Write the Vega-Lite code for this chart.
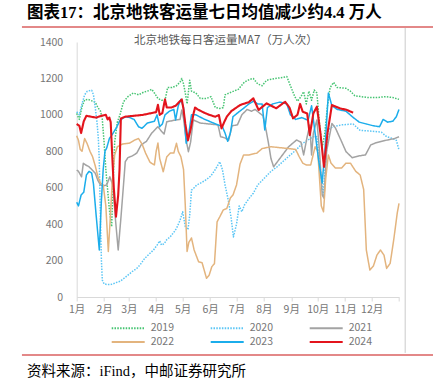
{
 "$schema": "https://vega.github.io/schema/vega-lite/v6.json",
 "background": "white",
 "autosize": {"type": "none"},
 "padding": {"left": 76.7, "top": 42, "right": 34, "bottom": 90},
 "width": 322.3,
 "height": 255,
 "config": {"view": {"stroke": null}, "font": "Noto Sans CJK SC",
   "axis": {"labelOverlap": false, "labelFlush": false, "labelFontSize": 10.5, "labelColor": "#767676", "domainColor": "#D9D9D9", "tickColor": "#D9D9D9", "grid": false, "title": null, "tickCount": 20}},
 "data": {"values": [
{"year":"2019","day":0,"value":1008},{"year":"2019","day":3,"value":975},{"year":"2019","day":6,"value":1045},{"year":"2019","day":9,"value":1082},{"year":"2019","day":13,"value":1085},{"year":"2019","day":18,"value":1075},{"year":"2019","day":21,"value":1070},{"year":"2019","day":24,"value":1040},{"year":"2019","day":27,"value":1020},{"year":"2019","day":29,"value":975},{"year":"2019","day":31,"value":850},{"year":"2019","day":33,"value":700},{"year":"2019","day":35,"value":590},{"year":"2019","day":37,"value":480},{"year":"2019","day":39.6,"value":386},{"year":"2019","day":41,"value":600},{"year":"2019","day":43,"value":850},{"year":"2019","day":46,"value":960},{"year":"2019","day":49,"value":1000},{"year":"2019","day":53,"value":1072},{"year":"2019","day":58,"value":1100},{"year":"2019","day":64,"value":1120},{"year":"2019","day":70,"value":1110},{"year":"2019","day":76,"value":1125},{"year":"2019","day":80,"value":1130},{"year":"2019","day":85,"value":1140},{"year":"2019","day":88,"value":1120},{"year":"2019","day":92,"value":1090},{"year":"2019","day":96,"value":1080},{"year":"2019","day":100,"value":1080},{"year":"2019","day":103,"value":1150},{"year":"2019","day":108,"value":1150},{"year":"2019","day":113,"value":1160},{"year":"2019","day":117,"value":1180},{"year":"2019","day":119,"value":1200},{"year":"2019","day":121,"value":1170},{"year":"2019","day":123,"value":1120},{"year":"2019","day":125,"value":1060},{"year":"2019","day":128,"value":1190},{"year":"2019","day":130,"value":1130},{"year":"2019","day":135,"value":1120},{"year":"2019","day":140,"value":1090},{"year":"2019","day":147,"value":1090},{"year":"2019","day":152,"value":1100},{"year":"2019","day":157,"value":1040},{"year":"2019","day":162,"value":1035},{"year":"2019","day":166,"value":1040},{"year":"2019","day":168,"value":1110},{"year":"2019","day":175,"value":1125},{"year":"2019","day":183,"value":1140},{"year":"2019","day":190,"value":1180},{"year":"2019","day":196,"value":1195},{"year":"2019","day":200,"value":1200},{"year":"2019","day":205,"value":1170},{"year":"2019","day":210,"value":1160},{"year":"2019","day":215,"value":1190},{"year":"2019","day":225,"value":1200},{"year":"2019","day":233,"value":1205},{"year":"2019","day":238,"value":1210},{"year":"2019","day":242,"value":1160},{"year":"2019","day":247,"value":1100},{"year":"2019","day":250,"value":1075},{"year":"2019","day":254,"value":1100},{"year":"2019","day":257,"value":1127},{"year":"2019","day":260,"value":1060},{"year":"2019","day":263,"value":1130},{"year":"2019","day":266,"value":1080},{"year":"2019","day":269,"value":1136},{"year":"2019","day":272,"value":1120},{"year":"2019","day":275,"value":950},{"year":"2019","day":278,"value":820},{"year":"2019","day":281,"value":900},{"year":"2019","day":284,"value":1050},{"year":"2019","day":287,"value":1150},{"year":"2019","day":291,"value":1178},{"year":"2019","day":295,"value":1150},{"year":"2019","day":305,"value":1146},{"year":"2019","day":310,"value":1130},{"year":"2019","day":315,"value":1105},{"year":"2019","day":322,"value":1100},{"year":"2019","day":330,"value":1095},{"year":"2019","day":340,"value":1095},{"year":"2019","day":350,"value":1100},{"year":"2019","day":358,"value":1095},{"year":"2019","day":365,"value":1085},
{"year":"2020","day":0,"value":1017},{"year":"2020","day":3,"value":1000},{"year":"2020","day":6,"value":1060},{"year":"2020","day":9,"value":1110},{"year":"2020","day":12,"value":1130},{"year":"2020","day":17,"value":1135},{"year":"2020","day":19,"value":1110},{"year":"2020","day":21,"value":1040},{"year":"2020","day":23,"value":960},{"year":"2020","day":24.5,"value":870},{"year":"2020","day":25.5,"value":760},{"year":"2020","day":27,"value":400},{"year":"2020","day":28,"value":200},{"year":"2020","day":29,"value":93},{"year":"2020","day":31,"value":72},{"year":"2020","day":35,"value":68},{"year":"2020","day":38,"value":68},{"year":"2020","day":41,"value":72},{"year":"2020","day":45,"value":80},{"year":"2020","day":49,"value":86},{"year":"2020","day":53,"value":100},{"year":"2020","day":58,"value":120},{"year":"2020","day":63,"value":140},{"year":"2020","day":68,"value":157},{"year":"2020","day":72,"value":178},{"year":"2020","day":77,"value":212},{"year":"2020","day":83,"value":240},{"year":"2020","day":87,"value":258},{"year":"2020","day":91,"value":285},{"year":"2020","day":94,"value":308},{"year":"2020","day":96,"value":285},{"year":"2020","day":99,"value":292},{"year":"2020","day":102,"value":315},{"year":"2020","day":106,"value":331},{"year":"2020","day":110,"value":355},{"year":"2020","day":113,"value":377},{"year":"2020","day":117,"value":420},{"year":"2020","day":120,"value":468},{"year":"2020","day":123,"value":386},{"year":"2020","day":126,"value":370},{"year":"2020","day":128,"value":450},{"year":"2020","day":130,"value":587},{"year":"2020","day":133,"value":600},{"year":"2020","day":136,"value":615},{"year":"2020","day":142,"value":630},{"year":"2020","day":147,"value":645},{"year":"2020","day":152,"value":665},{"year":"2020","day":157,"value":700},{"year":"2020","day":162,"value":743},{"year":"2020","day":165,"value":700},{"year":"2020","day":168,"value":615},{"year":"2020","day":172,"value":523},{"year":"2020","day":175,"value":430},{"year":"2020","day":177.5,"value":330},{"year":"2020","day":181,"value":400},{"year":"2020","day":184,"value":500},{"year":"2020","day":187,"value":468},{"year":"2020","day":190,"value":505},{"year":"2020","day":195,"value":540},{"year":"2020","day":200,"value":570},{"year":"2020","day":205,"value":615},{"year":"2020","day":210,"value":640},{"year":"2020","day":215,"value":665},{"year":"2020","day":220,"value":690},{"year":"2020","day":227,"value":715},{"year":"2020","day":235,"value":750},{"year":"2020","day":242,"value":780},{"year":"2020","day":249,"value":810},{"year":"2020","day":255,"value":840},{"year":"2020","day":262,"value":862},{"year":"2020","day":268,"value":880},{"year":"2020","day":272,"value":880},{"year":"2020","day":276,"value":700},{"year":"2020","day":279,"value":560},{"year":"2020","day":282,"value":750},{"year":"2020","day":285,"value":920},{"year":"2020","day":290,"value":935},{"year":"2020","day":300,"value":945},{"year":"2020","day":313,"value":950},{"year":"2020","day":321,"value":915},{"year":"2020","day":335,"value":910},{"year":"2020","day":345,"value":905},{"year":"2020","day":351,"value":880},{"year":"2020","day":358,"value":870},{"year":"2020","day":362,"value":860},{"year":"2020","day":365,"value":807},
{"year":"2021","day":0,"value":697},{"year":"2021","day":2,"value":690},{"year":"2021","day":5.5,"value":660},{"year":"2021","day":7.5,"value":734},{"year":"2021","day":10,"value":725},{"year":"2021","day":14,"value":715},{"year":"2021","day":17,"value":700},{"year":"2021","day":21,"value":680},{"year":"2021","day":24,"value":640},{"year":"2021","day":27,"value":615},{"year":"2021","day":30,"value":610},{"year":"2021","day":34,"value":615},{"year":"2021","day":37.5,"value":660},{"year":"2021","day":39,"value":640},{"year":"2021","day":41,"value":610},{"year":"2021","day":44,"value":420},{"year":"2021","day":47,"value":258},{"year":"2021","day":50,"value":430},{"year":"2021","day":53,"value":615},{"year":"2021","day":55,"value":743},{"year":"2021","day":58,"value":765},{"year":"2021","day":63,"value":775},{"year":"2021","day":68,"value":790},{"year":"2021","day":73,"value":835},{"year":"2021","day":79,"value":855},{"year":"2021","day":85,"value":900},{"year":"2021","day":92,"value":935},{"year":"2021","day":96,"value":910},{"year":"2021","day":99,"value":895},{"year":"2021","day":102,"value":962},{"year":"2021","day":110,"value":970},{"year":"2021","day":117,"value":975},{"year":"2021","day":119,"value":1027},{"year":"2021","day":121,"value":980},{"year":"2021","day":124,"value":860},{"year":"2021","day":126.5,"value":798},{"year":"2021","day":129,"value":850},{"year":"2021","day":132,"value":972},{"year":"2021","day":140,"value":955},{"year":"2021","day":150,"value":950},{"year":"2021","day":160,"value":945},{"year":"2021","day":163,"value":880},{"year":"2021","day":168,"value":873},{"year":"2021","day":172,"value":860},{"year":"2021","day":176,"value":940},{"year":"2021","day":182,"value":945},{"year":"2021","day":187,"value":1000},{"year":"2021","day":193,"value":1030},{"year":"2021","day":198,"value":1020},{"year":"2021","day":202,"value":1030},{"year":"2021","day":207,"value":1010},{"year":"2021","day":211,"value":995},{"year":"2021","day":214,"value":928},{"year":"2021","day":217,"value":850},{"year":"2021","day":220,"value":760},{"year":"2021","day":223,"value":715},{"year":"2021","day":230,"value":760},{"year":"2021","day":240,"value":825},{"year":"2021","day":249,"value":862},{"year":"2021","day":254,"value":850},{"year":"2021","day":257,"value":780},{"year":"2021","day":261,"value":880},{"year":"2021","day":264,"value":944},{"year":"2021","day":266,"value":780},{"year":"2021","day":268,"value":900},{"year":"2021","day":272,"value":972},{"year":"2021","day":275,"value":800},{"year":"2021","day":278,"value":560},{"year":"2021","day":280,"value":543},{"year":"2021","day":283,"value":800},{"year":"2021","day":289,"value":953},{"year":"2021","day":293,"value":928},{"year":"2021","day":300,"value":853},{"year":"2021","day":305,"value":798},{"year":"2021","day":312,"value":765},{"year":"2021","day":320,"value":775},{"year":"2021","day":327,"value":780},{"year":"2021","day":333,"value":835},{"year":"2021","day":338,"value":845},{"year":"2021","day":350,"value":860},{"year":"2021","day":360,"value":870},{"year":"2021","day":365,"value":880},
{"year":"2022","day":0,"value":885},{"year":"2022","day":2,"value":860},{"year":"2022","day":4,"value":810},{"year":"2022","day":6,"value":800},{"year":"2022","day":9,"value":870},{"year":"2022","day":12,"value":840},{"year":"2022","day":15,"value":800},{"year":"2022","day":18,"value":770},{"year":"2022","day":21,"value":720},{"year":"2022","day":24,"value":660},{"year":"2022","day":27,"value":625},{"year":"2022","day":30,"value":615},{"year":"2022","day":33,"value":500},{"year":"2022","day":35.8,"value":250},{"year":"2022","day":38,"value":430},{"year":"2022","day":40,"value":615},{"year":"2022","day":43,"value":780},{"year":"2022","day":46,"value":825},{"year":"2022","day":52,"value":840},{"year":"2022","day":60,"value":845},{"year":"2022","day":65,"value":860},{"year":"2022","day":70,"value":870},{"year":"2022","day":74,"value":840},{"year":"2022","day":78,"value":790},{"year":"2022","day":83,"value":740},{"year":"2022","day":88,"value":725},{"year":"2022","day":90,"value":800},{"year":"2022","day":92,"value":845},{"year":"2022","day":94,"value":760},{"year":"2022","day":98,"value":688},{"year":"2022","day":102,"value":770},{"year":"2022","day":106,"value":790},{"year":"2022","day":110,"value":790},{"year":"2022","day":113,"value":844},{"year":"2022","day":115,"value":800},{"year":"2022","day":118,"value":770},{"year":"2022","day":121,"value":700},{"year":"2022","day":123,"value":500},{"year":"2022","day":125,"value":250},{"year":"2022","day":127,"value":300},{"year":"2022","day":130,"value":324},{"year":"2022","day":133,"value":258},{"year":"2022","day":138,"value":194},{"year":"2022","day":142,"value":188},{"year":"2022","day":147,"value":103},{"year":"2022","day":150,"value":120},{"year":"2022","day":153,"value":166},{"year":"2022","day":156,"value":183},{"year":"2022","day":159,"value":413},{"year":"2022","day":162,"value":440},{"year":"2022","day":166,"value":478},{"year":"2022","day":170,"value":486},{"year":"2022","day":174,"value":543},{"year":"2022","day":177,"value":560},{"year":"2022","day":181,"value":615},{"year":"2022","day":185,"value":730},{"year":"2022","day":189,"value":780},{"year":"2022","day":195,"value":780},{"year":"2022","day":204,"value":790},{"year":"2022","day":210,"value":815},{"year":"2022","day":220,"value":825},{"year":"2022","day":230,"value":820},{"year":"2022","day":240,"value":815},{"year":"2022","day":248,"value":810},{"year":"2022","day":252,"value":770},{"year":"2022","day":256,"value":735},{"year":"2022","day":260,"value":725},{"year":"2022","day":265,"value":725},{"year":"2022","day":270,"value":825},{"year":"2022","day":273,"value":800},{"year":"2022","day":277,"value":500},{"year":"2022","day":279.5,"value":468},{"year":"2022","day":282,"value":650},{"year":"2022","day":285,"value":780},{"year":"2022","day":288,"value":735},{"year":"2022","day":293,"value":708},{"year":"2022","day":300,"value":708},{"year":"2022","day":305,"value":735},{"year":"2022","day":310,"value":735},{"year":"2022","day":316,"value":690},{"year":"2022","day":321,"value":670},{"year":"2022","day":325,"value":590},{"year":"2022","day":328,"value":258},{"year":"2022","day":332,"value":148},{"year":"2022","day":336,"value":170},{"year":"2022","day":340,"value":230},{"year":"2022","day":344,"value":258},{"year":"2022","day":348,"value":230},{"year":"2022","day":351,"value":157},{"year":"2022","day":355,"value":185},{"year":"2022","day":359,"value":313},{"year":"2022","day":363,"value":460},{"year":"2022","day":365,"value":514},
{"year":"2023","day":0,"value":520},{"year":"2023","day":2,"value":500},{"year":"2023","day":5,"value":560},{"year":"2023","day":8,"value":575},{"year":"2023","day":11,"value":670},{"year":"2023","day":14,"value":690},{"year":"2023","day":17,"value":680},{"year":"2023","day":19,"value":620},{"year":"2023","day":22,"value":450},{"year":"2023","day":25.6,"value":258},{"year":"2023","day":28,"value":532},{"year":"2023","day":30,"value":700},{"year":"2023","day":32,"value":800},{"year":"2023","day":34,"value":818},{"year":"2023","day":37,"value":870},{"year":"2023","day":40,"value":890},{"year":"2023","day":45,"value":930},{"year":"2023","day":49,"value":970},{"year":"2023","day":55,"value":990},{"year":"2023","day":60,"value":985},{"year":"2023","day":65,"value":975},{"year":"2023","day":70,"value":935},{"year":"2023","day":74,"value":926},{"year":"2023","day":80,"value":955},{"year":"2023","day":88,"value":965},{"year":"2023","day":91,"value":1000},{"year":"2023","day":94,"value":935},{"year":"2023","day":97,"value":950},{"year":"2023","day":100,"value":1000},{"year":"2023","day":105,"value":1020},{"year":"2023","day":110,"value":1030},{"year":"2023","day":112,"value":972},{"year":"2023","day":115,"value":1050},{"year":"2023","day":118,"value":1085},{"year":"2023","day":121,"value":1040},{"year":"2023","day":124,"value":844},{"year":"2023","day":127,"value":900},{"year":"2023","day":130,"value":1000},{"year":"2023","day":135,"value":1000},{"year":"2023","day":145,"value":975},{"year":"2023","day":155,"value":955},{"year":"2023","day":160,"value":945},{"year":"2023","day":165,"value":935},{"year":"2023","day":168,"value":900},{"year":"2023","day":171,"value":855},{"year":"2023","day":174,"value":900},{"year":"2023","day":177,"value":990},{"year":"2023","day":182,"value":1010},{"year":"2023","day":190,"value":1040},{"year":"2023","day":195,"value":1060},{"year":"2023","day":200,"value":1075},{"year":"2023","day":205,"value":1060},{"year":"2023","day":210,"value":1060},{"year":"2023","day":213,"value":917},{"year":"2023","day":216,"value":1040},{"year":"2023","day":222,"value":1060},{"year":"2023","day":230,"value":1070},{"year":"2023","day":238,"value":1060},{"year":"2023","day":242,"value":1000},{"year":"2023","day":248,"value":975},{"year":"2023","day":255,"value":985},{"year":"2023","day":262,"value":970},{"year":"2023","day":266,"value":1050},{"year":"2023","day":270,"value":900},{"year":"2023","day":274,"value":750},{"year":"2023","day":278,"value":626},{"year":"2023","day":281,"value":800},{"year":"2023","day":285,"value":1120},{"year":"2023","day":289,"value":1050},{"year":"2023","day":295,"value":1030},{"year":"2023","day":305,"value":1020},{"year":"2023","day":312,"value":990},{"year":"2023","day":320,"value":960},{"year":"2023","day":328,"value":950},{"year":"2023","day":336,"value":940},{"year":"2023","day":343,"value":935},{"year":"2023","day":347,"value":975},{"year":"2023","day":352,"value":960},{"year":"2023","day":358,"value":965},{"year":"2023","day":362,"value":990},{"year":"2023","day":365,"value":1030},
{"year":"2024","day":0,"value":950},{"year":"2024","day":3,"value":940},{"year":"2024","day":5,"value":900},{"year":"2024","day":8,"value":965},{"year":"2024","day":11,"value":995},{"year":"2024","day":16,"value":990},{"year":"2024","day":22,"value":985},{"year":"2024","day":28,"value":995},{"year":"2024","day":33,"value":1000},{"year":"2024","day":35,"value":975},{"year":"2024","day":37,"value":985},{"year":"2024","day":38.5,"value":960},{"year":"2024","day":40,"value":800},{"year":"2024","day":42,"value":600},{"year":"2024","day":44.5,"value":441},{"year":"2024","day":47,"value":560},{"year":"2024","day":48.5,"value":700},{"year":"2024","day":50,"value":980},{"year":"2024","day":55,"value":990},{"year":"2024","day":65,"value":995},{"year":"2024","day":75,"value":1000},{"year":"2024","day":85,"value":1010},{"year":"2024","day":90,"value":1015},{"year":"2024","day":92,"value":1055},{"year":"2024","day":94,"value":1000},{"year":"2024","day":97,"value":1010},{"year":"2024","day":100,"value":1085},{"year":"2024","day":102,"value":1040},{"year":"2024","day":107,"value":1040},{"year":"2024","day":112,"value":1050},{"year":"2024","day":117,"value":1075},{"year":"2024","day":119,"value":1085},{"year":"2024","day":121,"value":1030},{"year":"2024","day":123,"value":950},{"year":"2024","day":126,"value":860},{"year":"2024","day":129,"value":920},{"year":"2024","day":132,"value":1000},{"year":"2024","day":134,"value":1040},{"year":"2024","day":137,"value":1030},{"year":"2024","day":143,"value":1015},{"year":"2024","day":150,"value":1000},{"year":"2024","day":157,"value":990},{"year":"2024","day":161,"value":999},{"year":"2024","day":164,"value":926},{"year":"2024","day":167,"value":960},{"year":"2024","day":170,"value":990},{"year":"2024","day":175,"value":1020},{"year":"2024","day":185,"value":1054},{"year":"2024","day":195,"value":1070},{"year":"2024","day":200,"value":1091},{"year":"2024","day":206,"value":1027},{"year":"2024","day":215,"value":1063},{"year":"2024","day":226,"value":1036},{"year":"2024","day":236,"value":1072},{"year":"2024","day":241,"value":1040},{"year":"2024","day":245,"value":981},{"year":"2024","day":250,"value":1000},{"year":"2024","day":253,"value":1060},{"year":"2024","day":256,"value":1017},{"year":"2024","day":261,"value":1008},{"year":"2024","day":264,"value":889},{"year":"2024","day":268,"value":1008},{"year":"2024","day":272,"value":1045},{"year":"2024","day":276,"value":900},{"year":"2024","day":280,"value":715},{"year":"2024","day":284,"value":900},{"year":"2024","day":289,"value":1054},{"year":"2024","day":298,"value":1036},{"year":"2024","day":306,"value":1027},{"year":"2024","day":313,"value":1012}
 ]},
 "layer": [
  {"transform": [{"filter": "datum.year != '2024'"}],
   "mark": {"type": "line", "strokeWidth": 1.5, "strokeJoin": "round"},
   "encoding": {
    "x": {"field": "day", "type": "quantitative", "scale": {"domain": [0, 365], "nice": false, "zero": false},
          "axis": {"values": [0,31,59,90,120,151,181,212,243,273,304,334,365], "tickCount": 20, "labelExpr": "datum.value == 365 ? '' : (indexof([0,31,59,90,120,151,181,212,243,273,304,334], datum.value) + 1) + '月'", "tickSize": 4, "labelPadding": 3, "labelOverlap": false, "labelFlush": false}},
    "y": {"field": "value", "type": "quantitative", "scale": {"domain": [0, 1400], "nice": false},
          "axis": {"values": [0,200,400,600,800,1000,1200,1400], "tickCount": 20, "format": "d", "ticks": false, "labelPadding": 14, "labelOverlap": false}},
    "color": {"field": "year", "type": "nominal",
              "scale": {"domain": ["2019","2020","2021","2022","2023","2024"], "range": ["#46C472","#5CC6F5","#A3A3A3","#E3B47E","#1BADEB","#E3141C"]},
              "legend": {"orient": "none", "direction": "horizontal", "legendX": 34, "legendY": 280, "columns": 3, "symbolType": "M-1,0H5.6", "symbolSize": 100, "symbolStrokeWidth": 1.8, "labelOffset": 28, "columnPadding": 32, "rowPadding": 2, "labelFontSize": 10.5, "labelColor": "#767676", "title": null}},
    "strokeDash": {"field": "year", "type": "nominal",
              "scale": {"domain": ["2019","2020","2021","2022","2023","2024"], "range": [[1.5,1.3],[1.5,1.3],[1,0],[1,0],[1,0],[1,0]]}}
   }},
  {"transform": [{"filter": "datum.year == '2024'"}],
   "mark": {"type": "line", "strokeWidth": 2.1, "strokeJoin": "round"},
   "encoding": {
    "x": {"field": "day", "type": "quantitative"},
    "y": {"field": "value", "type": "quantitative"},
    "color": {"field": "year", "type": "nominal"},
    "strokeDash": {"field": "year", "type": "nominal"}
   }},
  {"data": {"values": [{"label": "北京地铁每日客运量MA7（万人次）"}]},
   "mark": {"type": "text", "fontSize": 11.5, "color": "#595959", "baseline": "middle"},
   "encoding": {"x": {"datum": 169}, "y": {"datum": 1405}, "text": {"field": "label"}}},
  {"data": {"values": [{"label": "图表17：北京地铁客运量七日均值减少约4.4 万人"}]},
   "mark": {"type": "text", "align": "left", "baseline": "middle", "font": "Liberation Serif, Noto Sans CJK SC", "fontSize": 16.5, "fontWeight": "bold", "color": "#000000"},
   "encoding": {"x": {"datum": -56.3}, "y": {"datum": 1559}, "text": {"field": "label"}}},
  {"data": {"values": [{"label": "资料来源：iFind，中邮证券研究所"}]},
   "mark": {"type": "text", "align": "left", "baseline": "middle", "font": "Liberation Serif, Noto Sans CJK SC", "fontSize": 14.5, "color": "#000000"},
   "encoding": {"x": {"datum": -56.3}, "y": {"datum": -412}, "text": {"field": "label"}}},
  {"data": {"values": [{"edge": "top"}]},
   "mark": {"type": "rule", "color": "#DA6161", "strokeWidth": 1.5},
   "encoding": {"x": {"datum": -62}, "x2": {"datum": 404}, "y": {"datum": 1482}}},
  {"data": {"values": [{"edge": "bottom"}]},
   "mark": {"type": "rule", "color": "#DA6161", "strokeWidth": 1.5},
   "encoding": {"x": {"datum": -62}, "x2": {"datum": 404}, "y": {"datum": -318}}},
  {"data": {"values": [{"edge": "right"}]},
   "mark": {"type": "rule", "color": "#CACACA", "strokeWidth": 1},
   "encoding": {"x": {"datum": 372}, "y": {"datum": 1477}, "y2": {"datum": -307}}}
 ]
}
